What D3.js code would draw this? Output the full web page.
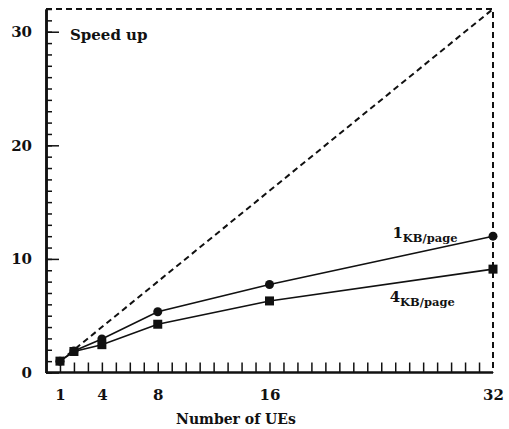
<!DOCTYPE html>
<html>
<head>
<meta charset="utf-8">
<script src="https://cdn.jsdelivr.net/npm/d3@7"></script>
<style>
	body { margin: 0; background: #fff; }
	svg text { font-family: "DejaVu Serif", serif; font-weight: bold; fill: #111; }
	.axis text { font-size: 15px; }
	.axis .domain { stroke: #111; stroke-width: 2.5; }
	.axis line { stroke: #111; stroke-width: 1.5; }
</style>
</head>
<body>
<div id="chart-area"></div>
<script>

// DATA
let ues = [1, 2, 4, 8, 16, 32];
let speedup1KB = [1, 1.9, 2.95, 5.35, 7.75, 12.0];
let speedup4KB = [1, 1.85, 2.45, 4.25, 6.3, 9.1];
let idealSpeedup = [1, 32];
let xTickLabels = [1, 4, 8, 16, 32];
let yTickLabels = [0, 10, 20, 30];

// CHART AREA
let margin = {top: 9, right: 16, bottom: 56.5, left: 46},
	width = 509 - margin.left - margin.right,
	height = 429 - margin.top - margin.bottom;

let svg = d3.select("#chart-area").append("svg")
	.attr("width", width + margin.left + margin.right)
	.attr("height", height + margin.top + margin.bottom)
	.append("g")
	.attr("transform", "translate(" + margin.left + "," + margin.top + ")");

// scales
let xScale = d3.scaleLinear()
	.domain([0, 32])
	.range([0, 447]);

let yScale = d3.scaleLinear()
	.domain([0, 32])
	.range([height, 0]);

// ---- AXES ----
// minor ticks (inward)
svg.append("g")
	.attr("class", "axis")
	.attr("transform", "translate(0," + height + ")")
	.call(d3.axisBottom(xScale).tickValues(d3.range(1, 32)).tickSize(-10).tickSizeOuter(0).tickFormat(""))
	.select(".domain").remove();

svg.append("g")
	.attr("class", "axis")
	.call(d3.axisLeft(yScale).tickValues(d3.range(0, 33)).tickSize(-6).tickSizeOuter(0).tickFormat(""));

// major ticks + labels
let xAxisGroup = svg.append("g")
	.attr("class", "axis")
	.attr("transform", "translate(0," + height + ")")
	.call(d3.axisBottom(xScale).tickValues(xTickLabels).tickSize(0).tickPadding(17));
xAxisGroup.select(".domain").attr("d", "M0,0H" + xScale(32));

svg.append("g")
	.attr("class", "axis")
	.call(d3.axisLeft(yScale).tickValues(yTickLabels).tickSize(-13).tickSizeOuter(0).tickPadding(14));

// ---- DASHED FRAME + IDEAL LINE ----
let dash = "6,4";
svg.append("path")
	.attr("d", "M0," + yScale(32) + "H" + xScale(32) + "V" + yScale(0))
	.attr("fill", "none")
	.attr("stroke", "#111")
	.attr("stroke-width", 2)
	.attr("stroke-dasharray", dash);

svg.append("path")
	.datum(idealSpeedup)
	.attr("d", d3.line().x(d => xScale(d)).y(d => yScale(d)))
	.attr("fill", "none")
	.attr("stroke", "#111")
	.attr("stroke-width", 2)
	.attr("stroke-dasharray", dash);

// ---- SERIES ----
let line = d3.line()
	.x((d, i) => xScale(ues[i]))
	.y(d => yScale(d));

[speedup1KB, speedup4KB].forEach(function(series) {
	svg.append("path")
		.datum(series)
		.attr("d", line)
		.attr("fill", "none")
		.attr("stroke", "#111")
		.attr("stroke-width", 1.6);
});

svg.selectAll(".dot")
	.data(speedup1KB)
	.enter()
	.append("circle")
	.attr("class", "dot")
	.attr("cx", (d, i) => xScale(ues[i]))
	.attr("cy", d => yScale(d))
	.attr("r", 4.5)
	.attr("fill", "#111");

svg.selectAll(".sq")
	.data(speedup4KB)
	.enter()
	.append("rect")
	.attr("class", "sq")
	.attr("x", (d, i) => xScale(ues[i]) - 4.5)
	.attr("y", d => yScale(d) - 4.5)
	.attr("width", 9)
	.attr("height", 9)
	.attr("fill", "#111");

// ---- LABELS ----
svg.append("text")
	.attr("x", 24)
	.attr("y", 31)
	.style("font-size", "15px")
	.text("Speed up");

function seriesLabel(num, x, y) {
	let t = svg.append("text")
		.attr("x", x)
		.attr("y", y)
		.style("font-size", "15px");
	t.append("tspan").text(num);
	t.append("tspan")
		.attr("dy", 4)
		.style("font-size", "11.5px")
		.text("KB/page");
}
seriesLabel("1", xScale(24.8), yScale(11.85));
seriesLabel("4", xScale(24.6), yScale(6.2));

svg.append("text")
	.attr("x", xScale(13.6))
	.attr("y", height + 51)
	.style("font-size", "14px")
	.style("text-anchor", "middle")
	.text("Number of UEs");

</script>
</body>
</html>
